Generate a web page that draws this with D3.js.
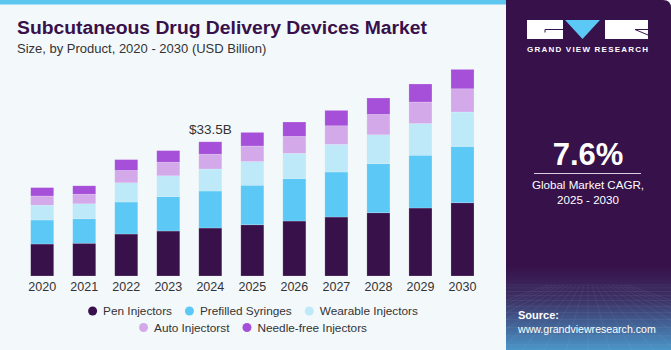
<!DOCTYPE html>
<html>
<head>
<meta charset="utf-8">
<script src="https://cdn.jsdelivr.net/npm/d3@7"></script>
<style>
  html, body { margin: 0; padding: 0; background: #ffffff; }
  svg { display: block; font-family: "Liberation Sans", Arial, sans-serif; }
</style>
</head>
<body>
<svg id="chart" width="671" height="350"></svg>
<script>
const years = ["2020", "2021", "2022", "2023", "2024", "2025", "2026", "2027", "2028", "2029", "2030"];
const penInjectors = [8.0, 8.2, 10.5, 11.25, 12.0, 12.8, 13.75, 14.75, 15.8, 17.0, 18.3];
const prefilledSyringes = [6.0, 6.1, 8.0, 8.6, 9.25, 9.9, 10.6, 11.25, 12.25, 13.2, 14.1];
const wearableInjectors = [3.7, 3.75, 4.8, 5.2, 5.5, 5.9, 6.3, 6.9, 7.25, 7.9, 8.6];
const autoInjectors = [2.3, 2.4, 3.1, 3.4, 3.7, 3.9, 4.25, 4.65, 5.1, 5.4, 5.8];
const needleFree = [2.1, 2.1, 2.7, 2.9, 3.1, 3.4, 3.6, 3.85, 4.1, 4.5, 4.85];

const seriesNames = ["Pen Injectors", "Prefilled Syringes", "Wearable Injectors", "Auto Injectorst", "Needle-free Injectors"];
const seriesColors = ["#38104a", "#5bc8f5", "#bde9f8", "#d3a9ea", "#a64fd8"];
const calloutYear = "2024";
const calloutText = "$33.5B";

const svg = d3.select("#chart");
const W = 671, H = 350;

// background card
svg.append("rect").attr("width", W).attr("height", H).attr("fill", "#f3f8fb");
svg.append("rect").attr("x", 0).attr("y", 0).attr("width", 510).attr("height", 4.5).attr("fill", "#5cc6ee");

// right panel
const defs = svg.append("defs");
const grad = defs.append("linearGradient").attr("id", "panelGrad")
    .attr("x1", 0).attr("y1", 0).attr("x2", 0).attr("y2", 1);
grad.append("stop").attr("offset", "0%").attr("stop-color", "#37114a");
grad.append("stop").attr("offset", "76%").attr("stop-color", "#37114a");
grad.append("stop").attr("offset", "86%").attr("stop-color", "#3c3468");
grad.append("stop").attr("offset", "100%").attr("stop-color", "#4a95c8");

svg.append("path")
    .attr("d", `M506,0 H663 Q671,0 671,8 V350 H506 Z`)
    .attr("fill", "url(#panelGrad)");

// faint grid in the bottom of the panel
const gridG = svg.append("g").attr("stroke", "#ffffff").attr("stroke-opacity", 0.1).attr("stroke-width", 0.6);
for (let i = 0; i < 14; i++) {
    const y = 285 + i * i * 0.35 + i * 2.5;
    gridG.append("line").attr("x1", 506).attr("x2", 671).attr("y1", y).attr("y2", y);
}
for (let i = -10; i <= 10; i++) {
    gridG.append("line").attr("x1", 588 + i * 4).attr("y1", 285).attr("x2", 588 + i * 22).attr("y2", 350);
}

// logo
const logo = svg.append("g");
logo.append("rect").attr("x", 527).attr("y", 20).attr("width", 36).attr("height", 19).attr("fill", "#ffffff");
logo.append("path").attr("d", "M545,32.5 V29.5 H563").attr("stroke", "#37114a").attr("stroke-width", 1).attr("fill", "none");
logo.append("path").attr("d", "M565,20 H600 L582.5,39 Z").attr("fill", "#5bc8f5");
logo.append("rect").attr("x", 605).attr("y", 20).attr("width", 43).attr("height", 19).attr("fill", "#ffffff");
logo.append("path").attr("d", "M648,29.5 H635 L648,35").attr("stroke", "#37114a").attr("stroke-width", 1).attr("fill", "none");
svg.append("text").attr("x", 527).attr("y", 51.5)
    .attr("fill", "#ffffff").attr("font-size", 8).attr("font-weight", "bold")
    .attr("textLength", 121).attr("lengthAdjust", "spacing")
    .text("GRAND VIEW RESEARCH");

// CAGR
svg.append("text").attr("x", 588).attr("y", 165).attr("text-anchor", "middle")
    .attr("fill", "#ffffff").attr("font-size", 31).attr("font-weight", "bold").text("7.6%");
svg.append("line").attr("x1", 534).attr("x2", 641).attr("y1", 173.5).attr("y2", 173.5)
    .attr("stroke", "#ffffff").attr("stroke-opacity", 0.8).attr("stroke-width", 1);
svg.append("text").attr("x", 588).attr("y", 189).attr("text-anchor", "middle")
    .attr("fill", "#ffffff").attr("font-size", 11.6).text("Global Market CAGR,");
svg.append("text").attr("x", 588).attr("y", 203.5).attr("text-anchor", "middle")
    .attr("fill", "#ffffff").attr("font-size", 11.6).text("2025 - 2030");

// source
svg.append("text").attr("x", 518).attr("y", 319).attr("fill", "#ffffff")
    .attr("font-size", 11).attr("font-weight", "bold").text("Source:");
svg.append("text").attr("x", 518).attr("y", 333).attr("fill", "#ffffff")
    .attr("font-size", 10.6).text("www.grandviewresearch.com");

// titles
svg.append("text").attr("x", 17).attr("y", 34).attr("fill", "#38104a")
    .attr("font-size", 18).attr("font-weight", "bold")
    .attr("textLength", 410).attr("lengthAdjust", "spacingAndGlyphs")
    .text("Subcutaneous Drug Delivery Devices Market");
svg.append("text").attr("x", 17).attr("y", 53).attr("fill", "#333333")
    .attr("font-size", 13).text("Size, by Product, 2020 - 2030 (USD Billion)");

// data table for stacking
const table = years.map((y, i) => ({
    year: y,
    s0: penInjectors[i],
    s1: prefilledSyringes[i],
    s2: wearableInjectors[i],
    s3: autoInjectors[i],
    s4: needleFree[i]
}));
const keys = ["s0", "s1", "s2", "s3", "s4"];
const stacked = d3.stack().keys(keys)(table);

const baseY = 276;
const x = d3.scaleBand()
    .domain(years)
    .range([18.1, 486.6])
    .paddingInner(0.452)
    .paddingOuter(0.3);

const y = d3.scaleLinear()
    .domain([0, 50])
    .range([baseY, baseY - 200]);

const layers = svg.append("g").selectAll("g")
    .data(stacked)
    .enter()
    .append("g")
    .attr("fill", (d, i) => seriesColors[i]);

layers.selectAll("rect")
    .data(d => d)
    .enter()
    .append("rect")
    .attr("x", d => x(d.data.year))
    .attr("y", d => y(d[1]))
    .attr("width", x.bandwidth())
    .attr("height", d => y(d[0]) - y(d[1]))
    .attr("stroke", "#f3f8fb")
    .attr("stroke-opacity", 0.35)
    .attr("stroke-width", 0.6);

// axis
const xAxis = svg.append("g")
    .attr("transform", `translate(0,${baseY})`)
    .call(d3.axisBottom(x).tickSize(0).tickPadding(6));
xAxis.select(".domain").remove();
xAxis.selectAll("text")
    .attr("font-size", 12.5)
    .attr("fill", "#333333")
    .attr("font-family", "Liberation Sans, Arial, sans-serif");

// callout
const ci = years.indexOf(calloutYear);
svg.append("text")
    .attr("x", x(calloutYear) + x.bandwidth() / 2)
    .attr("y", y(stacked[4][ci][1]) - 8)
    .attr("text-anchor", "middle")
    .attr("fill", "#333333")
    .attr("font-size", 13.5)
    .text(calloutText);

// legend
const rows = [[0, 1, 2], [3, 4]];
const rowY = [311, 327.5];
const legendCenter = 253;
const gap = 13;
rows.forEach((row, ri) => {
    const g = svg.append("g");
    let cx = 0;
    row.forEach(si => {
        const item = g.append("g").attr("transform", `translate(${cx},0)`);
        item.append("circle").attr("cx", 4.5).attr("cy", 0).attr("r", 4.5).attr("fill", seriesColors[si]);
        const t = item.append("text").attr("x", 15).attr("y", 4.3)
            .attr("font-size", 11.8).attr("fill", "#333333").text(seriesNames[si]);
        cx += 15 + t.node().getComputedTextLength() + gap;
    });
    const total = cx - gap;
    g.attr("transform", `translate(${legendCenter - total / 2},${rowY[ri]})`);
});
</script>
</body>
</html>
